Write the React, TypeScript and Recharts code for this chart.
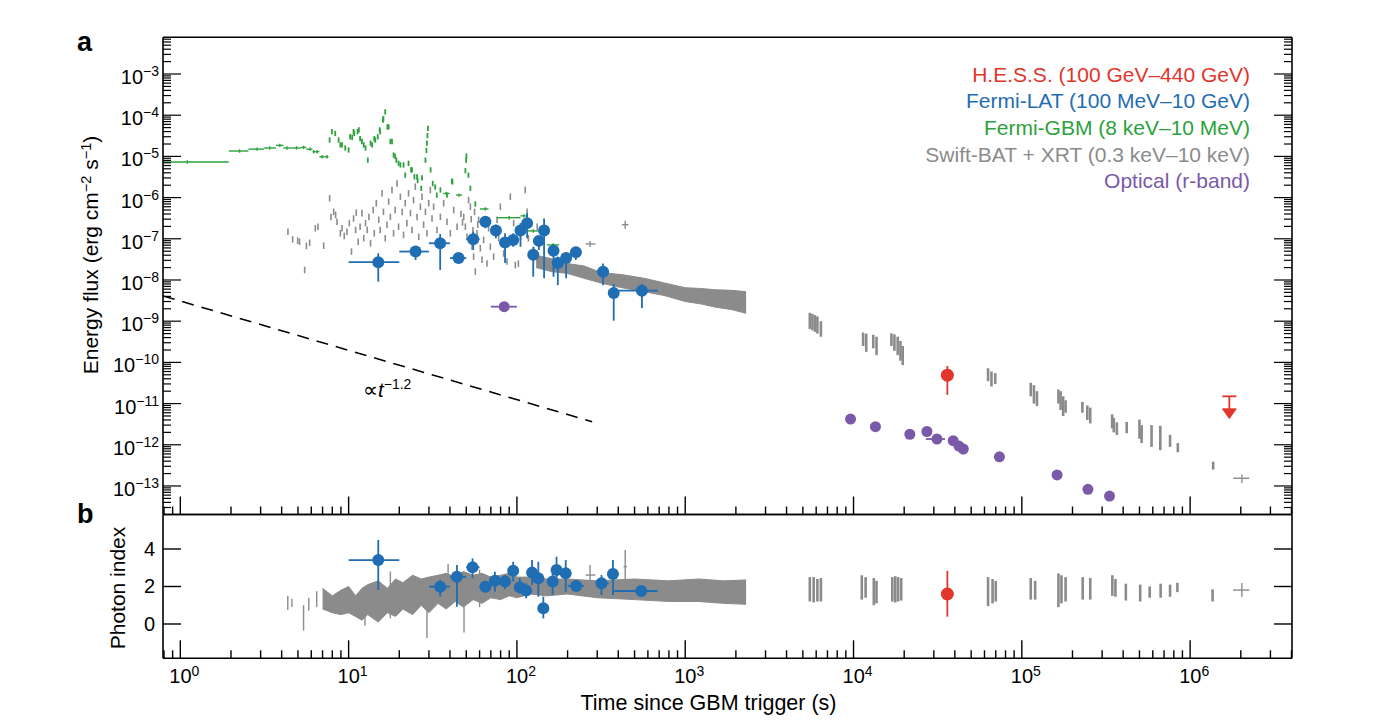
import { ComposedChart, Scatter, Line, Area, XAxis, YAxis, ErrorBar } from "recharts";

const FONT = "'Liberation Sans', Arial, Helvetica, sans-serif";
const RED = "#e2352b";
const BLUE = "#1f6db2";
const GREEN = "#2ca23c";
const GRAY = "#8b8b8b";
const PURPLE = "#7a5aa8";

const TIME_DOMAIN: [number, number] = [0.789, 4.03e6];
const FLUX_DOMAIN: [number, number] = [2.03e-14, 7.78e-3];
const INDEX_DOMAIN: [number, number] = [-1.83, 5.84];

// tick labels
const timeDecades = [1, 10, 100, 1e3, 1e4, 1e5, 1e6];
const fluxDecades = [1e-13, 1e-12, 1e-11, 1e-10, 1e-9, 1e-8, 1e-7, 1e-6, 1e-5, 1e-4, 1e-3];
const indexTicks = [0, 2, 4];

// Fermi-GBM, binned early points: [t, flux, tStart, tEnd]
const gbmBins = [
  [1.1, 7.3e-6, 0.79, 1.94], [2.25, 1.35e-5, 1.94, 2.54], [2.86, 1.5e-5, 2.54, 3.15],
  [3.4, 1.6e-5, 3.15, 3.7], [3.9, 1.85e-5, 3.7, 4.1], [4.3, 1.6e-5, 4.1, 4.6],
  [4.9, 1.6e-5, 4.6, 5.2], [5.4, 1.65e-5, 5.2, 5.6], [5.9, 1.5e-5, 5.6, 6.1],
  [6.2, 1.3e-5, 6.1, 6.35], [6.5, 1.3e-5, 6.35, 6.7], [6.95, 9.8e-6, 6.7, 7.2],
  [7.44, 9.8e-6, 7.2, 7.6], [38.1, 1.26e-6, 36.5, 39.8], [45.3, 1.15e-6, 43.5, 47.2],
  [64.9, 5.3e-7, 60.3, 67.8], [90, 3.25e-7, 76, 105], [110, 3.6e-7, 105, 116],
  [125, 1.55e-7, 116, 134], [164, 7.1e-8, 151, 178],
];

// Fermi-GBM, fine time bins: [t, flux]
const gbmFine = [
  [7.71, 2.5e-5], [7.96, 4.0e-5], [8.33, 3.6e-5], [8.72, 2.5e-5], [8.93, 1.9e-5], [9.14, 1.9e-5],
  [9.55, 1.6e-5], [10.0, 1.43e-5], [10.2, 3.0e-5], [10.5, 2.9e-5], [10.7, 4.0e-5], [10.8, 3.6e-5],
  [11.3, 4.0e-5], [11.5, 4.4e-5], [11.7, 2.7e-5], [12.0, 2.3e-5], [12.3, 1.9e-5], [12.6, 1.6e-5],
  [13.0, 8.1e-6], [13.5, 2.1e-5], [13.8, 1.9e-5], [14.2, 2.7e-5], [14.4, 2.5e-5], [14.9, 3.0e-5],
  [15.3, 4.4e-5], [15.4, 4.0e-5], [16.0, 7.6e-5], [16.1, 8.3e-5], [16.5, 1.2e-4], [17.0, 5.2e-5],
  [17.3, 5.2e-5], [17.7, 2.3e-5], [18.1, 2.3e-5], [18.5, 1.08e-5], [18.9, 1.0e-5], [19.2, 8.1e-6],
  [19.8, 6.8e-6], [20.3, 6.2e-6], [21.2, 6.2e-6], [21.7, 3.5e-6], [22.7, 6.8e-6], [23.5, 4.7e-6],
  [23.8, 4.7e-6], [24.6, 3.2e-6], [25.5, 3.2e-6], [25.7, 2.6e-6], [27.0, 1.68e-6], [27.3, 3.0e-6],
  [28.6, 8.1e-6], [29.0, 1.4e-5], [29.2, 2.1e-5], [29.4, 3.2e-5], [29.6, 4.8e-5], [30.7, 4.7e-6],
  [31.6, 2.2e-6], [32.7, 1.8e-6], [33.4, 1.15e-6], [35.1, 1.53e-6], [38.4, 1.15e-6], [41.1, 2.5e-6],
  [41.4, 2.4e-6], [49.4, 4.5e-6], [49.9, 8.1e-6], [50.1, 1.02e-5], [51.5, 3.5e-6], [52.9, 1.68e-6],
  [56.6, 7.0e-7],
];

// Swift-BAT / early XRT dashes: [t, flux]
const batDashes = [
  [4.36, 1.49e-7], [4.65, 9.7e-8], [4.98, 9.0e-8], [5.11, 8.5e-8], [5.48, 1.75e-8], [5.61, 6.7e-8],
  [5.87, 8.0e-8], [6.34, 1.8e-7], [6.58, 1.97e-7], [7.11, 6.8e-8], [7.71, 9.6e-7], [7.86, 3.4e-7],
  [8.15, 4.5e-7], [8.37, 3.8e-7], [8.53, 2.6e-7], [8.93, 1.36e-7], [9.14, 1.8e-7], [9.42, 1.17e-7],
  [9.78, 1.49e-7], [10.1, 2.4e-7], [10.4, 4.9e-8], [10.7, 3.1e-7], [11.0, 1.64e-7], [11.1, 4.3e-7],
  [11.4, 8.5e-8], [11.7, 1.97e-7], [12.0, 4.2e-7], [12.3, 1.03e-7], [12.6, 2.4e-7], [12.9, 1.64e-7],
  [13.2, 3.4e-7], [13.5, 7.8e-8], [14.0, 5.0e-7], [14.2, 1.36e-7], [14.6, 7.3e-7], [15.1, 2.9e-7],
  [15.4, 1.64e-7], [15.8, 1.27e-6], [16.1, 4.5e-7], [16.5, 1.03e-7], [16.9, 2.2e-7], [17.3, 8.0e-7],
  [17.7, 3.4e-7], [18.1, 1.53e-6], [18.5, 1.36e-7], [18.9, 5.0e-7], [19.4, 2.2e-6], [19.8, 1.97e-7],
  [20.3, 1.05e-6], [20.8, 4.5e-7], [21.2, 1.24e-7], [21.7, 7.3e-7], [22.2, 2.4e-7], [22.7, 1.27e-6],
  [23.3, 4.2e-7], [23.8, 1.64e-7], [24.3, 8.7e-7], [24.9, 1.84e-6], [25.5, 3.4e-7], [26.1, 1.12e-7],
  [26.7, 6.0e-7], [27.3, 1.05e-6], [27.9, 2.2e-7], [28.6, 4.5e-7], [29.2, 1.36e-7], [29.9, 7.3e-7],
  [30.6, 1.53e-6], [31.3, 3.1e-7], [32.0, 6.0e-7], [33.5, 1.64e-7], [35.1, 3.4e-7], [36.7, 7.3e-7],
  [38.4, 2.6e-7], [40.2, 1.36e-7], [42.1, 5.0e-7], [44.1, 1.97e-7], [46.5, 4.0e-7], [47.5, 2.5e-7],
  [48.3, 3.4e-7], [49.4, 1.97e-7], [50.5, 1.12e-7], [51.6, 8.7e-7], [52.9, 6.0e-7], [53.5, 3.0e-7],
  [54.1, 6.4e-8], [54.8, 1.6e-7], [55.3, 3.7e-8], [56.0, 4.5e-7], [56.6, 1.6e-8], [57.9, 1.36e-7],
  [58.5, 2.2e-7], [59.2, 2.9e-7], [60.6, 5.9e-8], [62.0, 3.1e-8], [63.4, 9.4e-8], [66.4, 2.5e-8],
  [67.9, 1.8e-7], [69.5, 6.4e-8], [72.7, 3.7e-8], [76.2, 2.9e-7], [77.9, 1.03e-7], [79.7, 6.0e-7],
  [83.4, 4.4e-8], [87.3, 2.8e-8], [91.4, 1.05e-6], [95.6, 2.4e-7], [97.8, 2.3e-8], [102, 2.5e-8],
  [105, 1.12e-7], [112, 1.53e-6], [115, 4.5e-7], [117, 1.03e-7], [126, 5.3e-8], [132, 1.97e-7],
];

// XRT continuous band: [t, low, high]
const xrtFluxBand = [
  [130, 2.0e-8, 4.0e-8], [160, 1.6e-8, 3.3e-8], [200, 1.44e-8, 2.5e-8], [250, 1.1e-8, 2.2e-8],
  [320, 8.3e-9, 1.5e-8], [420, 6.5e-9, 1.35e-8], [570, 5.2e-9, 1.1e-8], [750, 4.2e-9, 8.5e-9],
  [1000, 3.0e-9, 6.5e-9], [1250, 2.6e-9, 6.2e-9], [1500, 2.2e-9, 5.8e-9], [1900, 1.9e-9, 5.6e-9],
  [2300, 1.55e-9, 5.2e-9],
];

// XRT later orbits: [t, low, high]
const xrtLateFlux = [
  [5500, 6.5e-10, 1.6e-9], [5700, 6e-10, 1.5e-9], [5900, 5.5e-10, 1.4e-9], [6100, 5e-10, 1.3e-9], [6400, 4.2e-10, 1.0e-9],
  [11400, 2.5e-10, 5.3e-10], [11900, 1.8e-10, 5e-10], [13100, 2.2e-10, 4.7e-10], [13700, 1.5e-10, 4.2e-10],
  [16800, 2.5e-10, 5.1e-10], [17500, 1.9e-10, 4.8e-10], [18300, 1.5e-10, 4.2e-10], [19000, 1.1e-10, 3.3e-10], [19600, 8.6e-11, 2.5e-10],
  [63000, 3.5e-11, 7.2e-11], [66000, 2.6e-11, 6e-11], [69500, 3e-11, 5.5e-11],
  [113000, 1.5e-11, 3.2e-11], [118000, 1.0e-11, 2.8e-11], [123000, 8.7e-12, 2.0e-11],
  [165000, 1.0e-11, 2.2e-11], [170000, 7e-12, 2.0e-11], [176000, 5e-12, 1.5e-11], [182000, 6e-12, 1.2e-11],
  [229000, 6e-12, 1.1e-11], [245000, 4e-12, 9e-12], [255000, 3.3e-12, 8e-12],
  [344000, 2.5e-12, 5.5e-12], [352000, 2e-12, 4.5e-12], [367000, 1.74e-12, 3.5e-12],
  [420000, 1.9e-12, 3.6e-12], [500000, 1.4e-12, 4.1e-12], [515000, 1.1e-12, 3e-12],
  [590000, 8.9e-13, 3e-12], [665000, 7.4e-13, 2.9e-12], [760000, 8.9e-13, 1.74e-12],
  [845000, 6.6e-13, 1.1e-12], [1.37e6, 2.5e-13, 3.9e-13],
];

// gray crosses: [t, flux, tStart, tEnd, low, high]
const xrtFluxCrosses = [
  [272, 7.5e-8, 256, 293, 6.3e-8, 8.9e-8],
  [440, 2.2e-7, 420, 460, 1.75e-7, 2.75e-7],
  [2.03e6, 1.54e-13, 1.8e6, 2.25e6, 1.18e-13, 1.9e-13],
];

// Fermi-LAT: [t, flux, tStart, tEnd, low, high]
const latFlux = [
  [15, 2.7e-8, 10, 20, 9.1e-9, 4.45e-8], [25, 4.9e-8, 20, 30, 3.05e-8, 6.4e-8],
  [35, 7.8e-8, 30, 40, 1.75e-8, 1.31e-7], [45, 3.4e-8, 40, 50, 2.5e-8, 4.45e-8],
  [55, 9.7e-8, 50, 60, 5.35e-8, 1.49e-7], [65, 2.6e-7, 60, 70, 1.8e-7, 3.4e-7],
  [75, 1.58e-7, 70, 80, 1.03e-7, 2.2e-7], [85, 8.1e-8, 80, 90, 2.6e-8, 1.36e-7],
  [95, 9.3e-8, 90, 100, 6.4e-8, 1.36e-7], [105, 1.58e-7, 100, 110, 6.4e-8, 2.4e-7],
  [115, 2.4e-7, 110, 120, 1.03e-7, 4.2e-7], [125, 4.1e-8, 120, 130, 1.2e-8, 6.4e-8],
  [135, 8.9e-8, 130, 140, 5.35e-8, 1.12e-7], [145, 1.6e-7, 140, 150, 1.1e-8, 3.1e-7],
  [165, 5.1e-8, 160, 170, 1.2e-8, 7.2e-8], [175, 2.6e-8, 170, 180, 7.5e-9, 3.7e-8],
  [196, 3.4e-8, 190, 200, 1.1e-8, 4.6e-8], [224, 4.7e-8, 207, 242, 3.05e-8, 6.3e-8],
  [325, 1.58e-8, 300, 350, 7.5e-9, 2.5e-8], [376, 4.8e-9, 360, 390, 1.03e-9, 7.97e-9],
  [553, 5.5e-9, 350, 690, 2.1e-9, 8e-9],
];

// optical r-band: [t, flux, tStart, tEnd]
const opticalFlux = [
  [84, 2.25e-9, 70, 100], [9600, 4.2e-12, 9600, 9600], [13500, 2.75e-12, 13500, 13500],
  [21600, 1.8e-12, 21600, 21600], [27300, 2.1e-12, 27300, 27300], [31300, 1.38e-12, 26900, 35000],
  [39100, 1.26e-12, 39100, 39100], [42300, 9.3e-13, 42300, 42300], [44900, 7.9e-13, 44900, 44900],
  [73600, 5.1e-13, 73600, 73600], [162000, 1.85e-13, 162000, 162000], [247000, 8.3e-14, 247000, 247000],
  [332000, 5.7e-14, 332000, 332000],
];

// H.E.S.S.: [t, flux, low, high]
const hessFlux = [[36100, 4.9e-11, 1.62e-11, 8.2e-11]];
// H.E.S.S. upper limit: [t, arrow base flux, limit]
const hessLimit = [[1.71e6, 7.3e-12, 1.5e-11]];

// dashed t^-1.2 guide: [t, flux]
const powerLaw = [[0.789, 4.1e-9], [280, 3.63e-12]];

// ---- photon index panel ----
const xrtIndexBand = [
  [7, 0.8, 1.9], [8, 0.6, 1.5], [9, 0.5, 1.8], [10, 0.6, 2.0], [11, 0.4, 1.5], [12, 0.2, 1.9],
  [13, 0.5, 2.1], [15, 0.1, 2.3], [17, 0.6, 1.9], [19, 0.4, 2.4], [21, 0.8, 2.2], [24, 0.5, 2.6],
  [27, 1.0, 2.4], [30, 0.6, 2.5], [34, 1.1, 2.6], [38, 0.8, 2.7], [43, 1.2, 2.5], [48, 0.9, 2.8],
  [55, 1.3, 2.6], [62, 1.1, 2.7], [70, 1.4, 2.5], [80, 1.3, 2.6], [90, 1.5, 2.7], [100, 1.4, 2.5],
  [120, 1.6, 2.5], [150, 1.5, 2.4], [200, 1.6, 2.4], [300, 1.4, 2.3], [500, 1.3, 2.4],
  [800, 1.2, 2.3], [1200, 1.2, 2.4], [1700, 1.1, 2.3], [2300, 1.05, 2.35],
];

const batIndexBars = [
  [4.35, 0.75, 1.5], [4.6, 0.9, 1.35], [5.4, -0.35, 1.0], [5.8, 0.7, 1.4], [6.46, 0.9, 1.75],
  [12.5, -0.1, 1.6], [17.7, 0.3, 2.8], [29.2, -0.75, 1.5], [39, 1.2, 3.2], [48.5, -0.45, 1.8], [60, 0.9, 2.9],
];

const xrtLateIndex = [
  [5500, 1.2, 2.5], [5800, 1.15, 2.5], [6100, 1.2, 2.4], [6400, 1.2, 2.45],
  [11200, 1.3, 2.6], [11800, 1.4, 2.5], [13200, 1.0, 2.45], [13700, 1.1, 2.3],
  [17000, 1.2, 2.5], [17700, 1.15, 2.55], [18400, 1.2, 2.5], [19200, 1.25, 2.45],
  [63000, 0.95, 2.5], [67000, 1.1, 2.4], [70000, 1.2, 2.3],
  [113000, 1.3, 2.45], [120000, 1.3, 2.3],
  [165000, 0.9, 2.7], [172000, 1.1, 2.6], [182000, 1.2, 2.5],
  [230000, 1.3, 2.5], [255000, 1.3, 2.45], [345000, 1.5, 2.6], [360000, 1.45, 2.4],
  [415000, 1.25, 2.15], [505000, 1.2, 2.1], [575000, 1.4, 2.0], [668000, 1.4, 2.15],
  [760000, 1.45, 2.1], [840000, 1.7, 2.2], [1.36e6, 1.2, 1.85],
];

const xrtIndexCrosses = [
  [272, 2.61, 256, 293, 2.08, 3.15],
  [440, 3.06, 430, 450, 1.72, 3.95],
  [2.03e6, 1.81, 1.8e6, 2.25e6, 1.44, 2.19],
];

const latIndex = [
  [15, 3.41, 10, 20, 1.81, 4.48], [35, 1.99, 30, 40, 1.46, 2.35], [44, 2.52, 40, 50, 0.92, 3.15],
  [54.5, 3.02, 50, 60, 2.44, 3.5], [65, 1.99, 60, 70, 1.8, 2.2], [74, 2.31, 70, 80, 1.72, 2.79],
  [85, 2.26, 80, 90, 1.85, 2.6], [95, 2.84, 90, 100, 2.26, 3.32], [104, 1.96, 100, 110, 1.63, 2.44],
  [113.5, 1.78, 110, 120, 1.37, 2.17], [123, 2.74, 120, 130, 2.08, 3.41], [134, 2.44, 130, 140, 1.46, 3.32],
  [143.5, 0.84, 140, 150, 0.3, 1.46], [163, 2.26, 160, 170, 1.55, 2.79], [172, 2.88, 170, 180, 2.08, 3.59],
  [195, 2.7, 190, 200, 1.72, 3.41], [225, 2.03, 200, 250, 1.78, 2.26], [318, 2.17, 300, 350, 1.55, 2.61],
  [372, 2.67, 350, 400, 1.55, 3.41], [548, 1.76, 378, 685, 1.66, 1.86],
];

const hessIndex = [[36100, 1.6, 0.39, 2.83]];

// ---- helpers ----
const DASH_K = 1.2; // half length of a gray dash, as a flux factor
const GBM_K = 1.16;

const binned = (rows: number[][]) =>
  rows.map(([t, y, t0, t1, y0, y1]) => ({ t, y, ex: [t - t0, t1 - t], ey: [y - y0, y1 - y] }));
const rangeLog = (rows: number[][]) =>
  rows.map(([t, lo, hi]) => {
    const y = Math.sqrt(lo * hi);
    return { t, y, ey: [y - lo, hi - y] };
  });
const rangeLin = (rows: number[][]) =>
  rows.map(([t, lo, hi]) => {
    const y = (lo + hi) / 2;
    return { t, y, ey: [y - lo, hi - y] };
  });
const dashes = (rows: number[][], k: number) => rows.map(([t, y]) => ({ t, y, ey: [y - y / k, y * k - y] }));
const band = (rows: number[][]) => rows.map(([t, lo, hi]) => ({ t, band: [lo, hi] }));

const isDecade = (v: number) => Math.abs(Math.log10(v) - Math.round(Math.log10(v))) < 1e-6;
const logTicks = (decades: number[], [lo, hi]: [number, number]) =>
  [decades[0] / 10, ...decades, decades[decades.length - 1] * 10]
    .flatMap((d) => [1, 2, 3, 4, 5, 6, 7, 8, 9].map((k) => k * d))
    .filter((v) => v >= lo && v <= hi);

const timeTicks = logTicks(timeDecades, TIME_DOMAIN);
const fluxTicks = logTicks(fluxDecades, FLUX_DOMAIN);

const expText = (v: number) => {
  const e = Math.round(Math.log10(v));
  return e < 0 ? `\u2212${-e}` : `${e}`;
};

const AXIS = { stroke: "#000", strokeWidth: 1.6 };
const MAJOR = 18;
const MINOR = 8;

const TimeTick = ({ x, y, payload, dir, label }: any) => {
  const major = isDecade(payload.value);
  return (
    <g>
      <line x1={x} y1={y} x2={x} y2={y + dir * (major ? MAJOR : MINOR)} stroke="#000" strokeWidth={1.4} />
      {label && major && (
        <text x={x - 11} y={y + 25} fontSize={20} fontFamily={FONT} fill="#000">
          10<tspan dy={-7} fontSize={14}>{expText(payload.value)}</tspan>
        </text>
      )}
    </g>
  );
};

const FluxTick = ({ x, y, payload, dir, label }: any) => {
  const major = isDecade(payload.value);
  return (
    <g>
      <line x1={x} y1={y} x2={x + dir * (major ? MAJOR : MINOR)} y2={y} stroke="#000" strokeWidth={1.2} />
      {label && major && (
        <text x={x - 4} y={y + 10} fontSize={20} fontFamily={FONT} fill="#000" textAnchor="end">
          10<tspan dy={-8} fontSize={14}>{expText(payload.value)}</tspan>
        </text>
      )}
    </g>
  );
};

const IndexTick = ({ x, y, payload, dir, label }: any) => (
  <g>
    <line x1={x} y1={y} x2={x + dir * MAJOR} y2={y} stroke="#000" strokeWidth={1.4} />
    {label && (
      <text x={x - 8} y={y + 7} fontSize={20} fontFamily={FONT} fill="#000" textAnchor="end">
        {payload.value}
      </text>
    )}
  </g>
);

const none = () => <g />;
const dot = (r: number, fill: string) => (p: any) => <circle cx={p.cx} cy={p.cy} r={r} fill={fill} />;
const arrowDown = (p: any) => (
  <path d={`M${p.cx - 7},${p.cy} L${p.cx + 7},${p.cy} L${p.cx},${p.cy + 10} Z`} fill={RED} />
);

const timeAxes = (labelBottom: boolean) => [
  <XAxis
    key="xb"
    dataKey="t"
    type="number"
    scale="log"
    domain={TIME_DOMAIN}
    allowDataOverflow
    ticks={timeTicks}
    interval={0}
    height={1}
    tickSize={0}
    tickMargin={0}
    tickLine={false}
    axisLine={AXIS}
    tick={(p: any) => <TimeTick {...p} dir={-1} label={labelBottom} />}
  />,
  <XAxis
    key="xt"
    xAxisId="top"
    orientation="top"
    type="number"
    scale="log"
    domain={TIME_DOMAIN}
    allowDataOverflow
    ticks={timeTicks}
    interval={0}
    height={1}
    tickSize={0}
    tickMargin={0}
    tickLine={false}
    axisLine={AXIS}
    tick={(p: any) => <TimeTick {...p} dir={1} />}
  />,
];

const TopPanel = () => (
  <ComposedChart
    width={1382}
    height={530}
    data={band(xrtFluxBand)}
    margin={{ top: 36.3, right: 89, bottom: 14.5, left: 162 }}
  >
    {timeAxes(false)}
    <YAxis
      dataKey="y"
      type="number"
      scale="log"
      domain={FLUX_DOMAIN}
      allowDataOverflow
      ticks={fluxTicks}
      interval={0}
      width={1}
      tickSize={0}
      tickMargin={0}
      tickLine={false}
      axisLine={AXIS}
      tick={(p: any) => <FluxTick {...p} dir={1} label />}
    />
    <YAxis
      yAxisId="right"
      orientation="right"
      type="number"
      scale="log"
      domain={FLUX_DOMAIN}
      allowDataOverflow
      ticks={fluxTicks}
      interval={0}
      width={1}
      tickSize={0}
      tickMargin={0}
      tickLine={false}
      axisLine={AXIS}
      tick={(p: any) => <FluxTick {...p} dir={-1} />}
    />
    <Area dataKey="band" type="linear" stroke={GRAY} strokeWidth={1} fill={GRAY} fillOpacity={1} dot={false} activeDot={false} isAnimationActive={false} />
    <Scatter data={dashes(batDashes, DASH_K)} dataKey="y" shape={none} isAnimationActive={false}>
      <ErrorBar dataKey="ey" direction="y" width={0} stroke={GRAY} strokeWidth={1.6} isAnimationActive={false} />
    </Scatter>
    <Scatter data={rangeLog(xrtLateFlux)} dataKey="y" shape={none} isAnimationActive={false}>
      <ErrorBar dataKey="ey" direction="y" width={0} stroke={GRAY} strokeWidth={2.6} isAnimationActive={false} />
    </Scatter>
    <Scatter data={binned(xrtFluxCrosses)} dataKey="y" shape={none} isAnimationActive={false}>
      <ErrorBar dataKey="ex" direction="x" width={0} stroke={GRAY} strokeWidth={1.4} isAnimationActive={false} />
      <ErrorBar dataKey="ey" direction="y" width={0} stroke={GRAY} strokeWidth={1.4} isAnimationActive={false} />
    </Scatter>
    <Scatter
      data={gbmBins.map(([t, y, t0, t1]) => ({ t, y, ex: [t - t0, t1 - t], ey: [y - y / 1.1, y * 1.1 - y] }))}
      dataKey="y"
      shape={none}
      isAnimationActive={false}
    >
      <ErrorBar dataKey="ex" direction="x" width={0} stroke={GREEN} strokeWidth={1.4} isAnimationActive={false} />
      <ErrorBar dataKey="ey" direction="y" width={0} stroke={GREEN} strokeWidth={1.4} isAnimationActive={false} />
    </Scatter>
    <Scatter data={dashes(gbmFine, GBM_K)} dataKey="y" shape={none} isAnimationActive={false}>
      <ErrorBar dataKey="ey" direction="y" width={0} stroke={GREEN} strokeWidth={1.8} isAnimationActive={false} />
    </Scatter>
    <Scatter data={binned(latFlux)} dataKey="y" shape={dot(6, BLUE)} isAnimationActive={false}>
      <ErrorBar dataKey="ex" direction="x" width={0} stroke={BLUE} strokeWidth={1.8} isAnimationActive={false} />
      <ErrorBar dataKey="ey" direction="y" width={0} stroke={BLUE} strokeWidth={1.8} isAnimationActive={false} />
    </Scatter>
    <Scatter
      data={opticalFlux.map(([t, y, t0, t1]) => ({ t, y, ex: [t - t0, t1 - t] }))}
      dataKey="y"
      shape={dot(5.5, PURPLE)}
      isAnimationActive={false}
    >
      <ErrorBar dataKey="ex" direction="x" width={0} stroke={PURPLE} strokeWidth={1.8} isAnimationActive={false} />
    </Scatter>
    <Scatter
      data={hessFlux.map(([t, y, y0, y1]) => ({ t, y, ey: [y - y0, y1 - y] }))}
      dataKey="y"
      shape={dot(6.5, RED)}
      isAnimationActive={false}
    >
      <ErrorBar dataKey="ey" direction="y" width={0} stroke={RED} strokeWidth={1.8} isAnimationActive={false} />
    </Scatter>
    <Scatter
      data={hessLimit.map(([t, y, lim]) => ({ t, y, ey: [0, lim - y] }))}
      dataKey="y"
      shape={arrowDown}
      isAnimationActive={false}
    >
      <ErrorBar dataKey="ey" direction="y" width={7} stroke={RED} strokeWidth={1.8} isAnimationActive={false} />
    </Scatter>
    <Line
      data={powerLaw.map(([t, y]) => ({ t, y }))}
      dataKey="y"
      type="linear"
      stroke="#000"
      strokeWidth={1.5}
      strokeDasharray="12 8"
      dot={false}
      activeDot={false}
      isAnimationActive={false}
    />
  </ComposedChart>
);

const BottomPanel = () => (
  <ComposedChart
    width={1382}
    height={224}
    data={band(xrtIndexBand)}
    margin={{ top: 13.5, right: 89, bottom: 64.7, left: 162 }}
  >
    {timeAxes(true)}
    <YAxis
      dataKey="y"
      type="number"
      domain={INDEX_DOMAIN}
      allowDataOverflow
      ticks={indexTicks}
      interval={0}
      width={1}
      tickSize={0}
      tickMargin={0}
      tickLine={false}
      axisLine={AXIS}
      tick={(p: any) => <IndexTick {...p} dir={1} label />}
    />
    <YAxis
      yAxisId="right"
      orientation="right"
      type="number"
      domain={INDEX_DOMAIN}
      allowDataOverflow
      ticks={indexTicks}
      interval={0}
      width={1}
      tickSize={0}
      tickMargin={0}
      tickLine={false}
      axisLine={AXIS}
      tick={(p: any) => <IndexTick {...p} dir={-1} />}
    />
    <Area dataKey="band" type="linear" stroke={GRAY} strokeWidth={1} fill={GRAY} fillOpacity={1} dot={false} activeDot={false} isAnimationActive={false} />
    <Scatter data={rangeLin(batIndexBars)} dataKey="y" shape={none} isAnimationActive={false}>
      <ErrorBar dataKey="ey" direction="y" width={0} stroke={GRAY} strokeWidth={1.4} isAnimationActive={false} />
    </Scatter>
    <Scatter data={rangeLin(xrtLateIndex)} dataKey="y" shape={none} isAnimationActive={false}>
      <ErrorBar dataKey="ey" direction="y" width={0} stroke={GRAY} strokeWidth={2.6} isAnimationActive={false} />
    </Scatter>
    <Scatter data={binned(xrtIndexCrosses)} dataKey="y" shape={none} isAnimationActive={false}>
      <ErrorBar dataKey="ex" direction="x" width={0} stroke={GRAY} strokeWidth={1.4} isAnimationActive={false} />
      <ErrorBar dataKey="ey" direction="y" width={0} stroke={GRAY} strokeWidth={1.4} isAnimationActive={false} />
    </Scatter>
    <Scatter data={binned(latIndex)} dataKey="y" shape={dot(6, BLUE)} isAnimationActive={false}>
      <ErrorBar dataKey="ex" direction="x" width={0} stroke={BLUE} strokeWidth={1.8} isAnimationActive={false} />
      <ErrorBar dataKey="ey" direction="y" width={0} stroke={BLUE} strokeWidth={1.8} isAnimationActive={false} />
    </Scatter>
    <Scatter
      data={hessIndex.map(([t, y, y0, y1]) => ({ t, y, ey: [y - y0, y1 - y] }))}
      dataKey="y"
      shape={dot(6.5, RED)}
      isAnimationActive={false}
    >
      <ErrorBar dataKey="ey" direction="y" width={0} stroke={RED} strokeWidth={1.8} isAnimationActive={false} />
    </Scatter>
  </ComposedChart>
);

const legend = [
  { text: "H.E.S.S. (100 GeV\u2013440 GeV)", color: RED },
  { text: "Fermi-LAT (100 MeV\u201310 GeV)", color: BLUE },
  { text: "Fermi-GBM (8 keV\u201310 MeV)", color: GREEN },
  { text: "Swift-BAT + XRT (0.3 keV\u201310 keV)", color: GRAY },
  { text: "Optical (r-band)", color: PURPLE },
];

export default function App() {
  return (
    <div style={{ position: "absolute", left: 0, top: 0, width: 1382, height: 724, background: "#fff" }}>
      <div style={{ position: "absolute", left: 0, top: 0 }}>
        <TopPanel />
      </div>
      <div style={{ position: "absolute", left: 0, top: 500 }}>
        <BottomPanel />
      </div>
      <svg
        width={1382}
        height={724}
        style={{ position: "absolute", left: 0, top: 0, pointerEvents: "none" }}
        fontFamily={FONT}
      >
        <text x={77} y={51} fontSize={27} fontWeight="bold">a</text>
        <text x={77} y={523} fontSize={27} fontWeight="bold">b</text>
        <text transform="translate(98,255) rotate(-90)" textAnchor="middle" fontSize={21}>
          Energy flux (erg cm<tspan dy={-7} fontSize={14.5}>{"\u22122"}</tspan>
          <tspan dy={7}> s</tspan>
          <tspan dy={-7} fontSize={14.5}>{"\u22121"}</tspan>
          <tspan dy={7}>)</tspan>
        </text>
        <text transform="translate(125,588) rotate(-90)" textAnchor="middle" fontSize={21}>
          Photon index
        </text>
        <text x={708.5} y={710} textAnchor="middle" fontSize={21.5}>
          Time since GBM trigger (s)
        </text>
        <text x={363} y={397} fontSize={20.5}>
          {"\u221d"}
          <tspan fontStyle="italic">t</tspan>
          <tspan dy={-8} fontSize={14}>{"\u22121.2"}</tspan>
        </text>
        {legend.map((l, i) => (
          <text key={l.text} x={1250} y={81.7 + i * 26.6} textAnchor="end" fontSize={21} fill={l.color}>
            {l.text}
          </text>
        ))}
      </svg>
    </div>
  );
}
